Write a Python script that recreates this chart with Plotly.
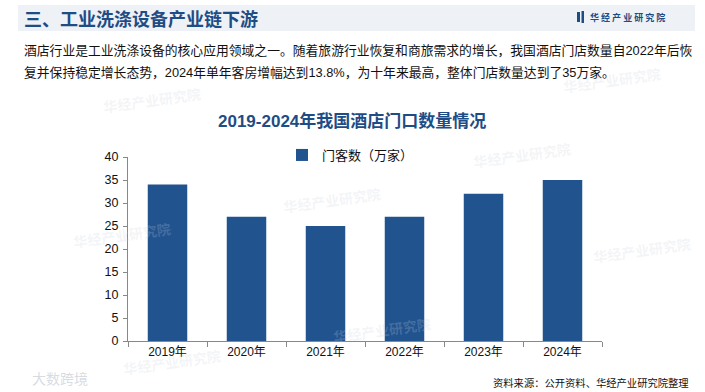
import plotly.graph_objects as go

categories = ["2019年", "2020年", "2021年", "2022年", "2023年", "2024年"]
values = [34, 27, 25, 27, 32, 35]
series_name = "门客数（万家）"
y_ticks = [0, 5, 10, 15, 20, 25, 30, 35, 40]

W, H = 705, 392
L, R, T, B = 128, 103, 157, 51
BLUE = "#21538f"
TITLE_BLUE = "#1e4c85"
FONT = "Liberation Sans, Arial, Noto Sans CJK SC, sans-serif"
CJK = "Noto Sans CJK SC, sans-serif"

fig = go.Figure()
fig.add_trace(go.Bar(x=categories, y=values, name=series_name,
                     marker=dict(color=BLUE, line=dict(width=0)),
                     showlegend=True))

def px_x(px):
    return (px - L) / (W - L - R)

def px_y(py):
    return (H - B - py) / (H - T - B)

shapes = [
    dict(type="rect", xref="paper", yref="paper",
         x0=px_x(18), x1=px_x(695), y0=px_y(31), y1=px_y(5),
         fillcolor="#eef1f5", line=dict(width=0), layer="below"),
    dict(type="rect", xref="paper", yref="paper",
         x0=px_x(577), x1=px_x(580), y0=px_y(22), y1=px_y(12),
         fillcolor=TITLE_BLUE, line=dict(width=0)),
    dict(type="rect", xref="paper", yref="paper",
         x0=px_x(581.5), x1=px_x(584), y0=px_y(23), y1=px_y(11),
         fillcolor=TITLE_BLUE, line=dict(width=0)),
]

annotations = [
    dict(text="<b>三、工业洗涤设备产业链下游</b>", x=px_x(22), y=px_y(18),
         xref="paper", yref="paper", xanchor="left", yanchor="middle",
         showarrow=False, font=dict(family=CJK, size=18, color=TITLE_BLUE)),
    dict(text="<b>华 经 产 业 研 究 院</b>", x=px_x(588), y=px_y(17),
         xref="paper", yref="paper", xanchor="left", yanchor="middle",
         showarrow=False, font=dict(family=CJK, size=9, color=TITLE_BLUE)),
    dict(text="酒店行业是工业洗涤设备的核心应用领域之一。随着旅游行业恢复和商旅需求的增长，我国酒店门店数量自2022年后恢",
         x=px_x(22), y=px_y(50), xref="paper", yref="paper",
         xanchor="left", yanchor="middle", showarrow=False,
         font=dict(family=FONT, size=12.8, color="#111111")),
    dict(text="复并保持稳定增长态势，2024年单年客房增幅达到13.8%，为十年来最高，整体门店数量达到了35万家。",
         x=px_x(22), y=px_y(72), xref="paper", yref="paper",
         xanchor="left", yanchor="middle", showarrow=False,
         font=dict(family=FONT, size=12.8, color="#111111")),
    dict(text="<b>2019-2024年我国酒店门口数量情况</b>", x=px_x(352), y=px_y(121),
         xref="paper", yref="paper", xanchor="center", yanchor="middle",
         showarrow=False, font=dict(family=FONT, size=17, color=TITLE_BLUE)),
    dict(text="资料来源：公开资料、华经产业研究院整理", x=px_x(691), y=px_y(382),
         xref="paper", yref="paper", xanchor="right", yanchor="middle",
         showarrow=False, font=dict(family=CJK, size=10.3, color="#111111")),
    dict(text="大数跨境", x=px_x(30), y=px_y(378),
         xref="paper", yref="paper", xanchor="left", yanchor="middle",
         showarrow=False, font=dict(family=CJK, size=14, color="rgba(190,195,205,0.6)")),
]

# faint watermarks
for (wx, wy) in [(100, 100), (280, 200), (470, 155), (330, 330), (590, 250), (70, 235), (560, 80), (120, 362)]:
    annotations.append(dict(text="<b>华经产业研究院</b>", x=px_x(wx), y=px_y(wy),
                            xref="paper", yref="paper", xanchor="left", yanchor="middle",
                            textangle=-8, showarrow=False,
                            font=dict(family=CJK, size=14, color="rgba(200,208,222,0.22)")))

fig.update_layout(
    width=W, height=H,
    margin=dict(l=L, r=R, t=T, b=B, pad=0),
    paper_bgcolor="white", plot_bgcolor="white",
    bargap=0.5,
    font=dict(family=FONT, size=12, color="#111111"),
    shapes=shapes, annotations=annotations,
    legend=dict(x=px_x(282), y=px_y(140), xanchor="left", yanchor="top",
                orientation="h", itemwidth=30, bgcolor="rgba(0,0,0,0)",
                font=dict(family=CJK, size=13, color="#111111")),
    xaxis=dict(showline=True, linecolor="#888888", linewidth=1,
               ticks="outside", ticklen=5, tickcolor="#888888",
               tickson="boundaries", showgrid=False,
               tickfont=dict(family=FONT, size=12, color="#111111")),
    yaxis=dict(range=[0, 40], tickvals=y_ticks, showline=True,
               linecolor="#888888", linewidth=1, ticks="outside", ticklen=4,
               tickcolor="#888888", showgrid=False, zeroline=False,
               ticklabelstandoff=2,
               tickfont=dict(family=FONT, size=12.5, color="#111111")),
)

fig.write_html("out.html", config={"displayModeBar": False},
               post_script="document.body.style.margin='0';document.body.style.overflow='hidden';")
